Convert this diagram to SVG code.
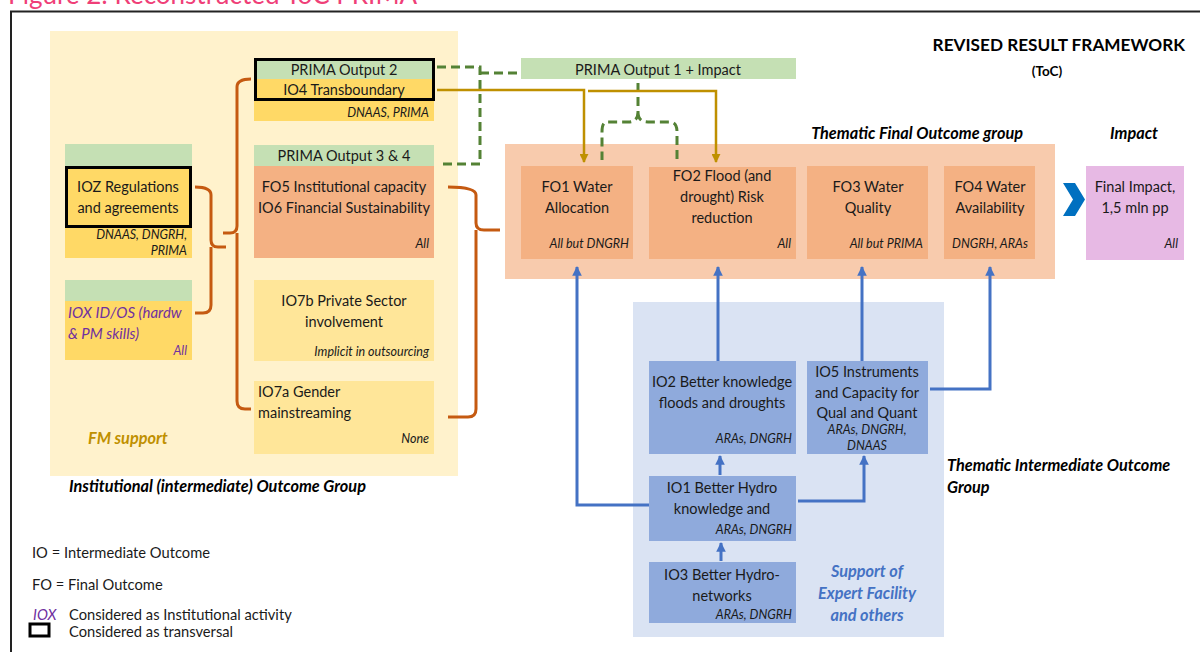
<svg xmlns="http://www.w3.org/2000/svg" width="1200" height="652" viewBox="0 0 1200 652">
<defs>
<style>
text{font-family:Lato,"Liberation Sans",sans-serif;font-size:14.5px;fill:#1a1a1a}
.c{text-anchor:middle}
.r{text-anchor:end}
.s{font-size:12.5px;font-style:italic}
.h{font-weight:bold;font-style:italic;font-size:16.3px;fill:#000}
.lg{font-size:14.7px}
.g{fill:#C5E0B4}
.y{fill:#FFD966}
.ly{fill:#FFE699}
.sa{fill:#F4B183}
.bl{fill:#8FAADC}
.br{fill:none;stroke:#C55A11;stroke-width:3;stroke-linejoin:round}
.dg{fill:none;stroke:#548235;stroke-width:3;stroke-dasharray:9 5}
.go{fill:none;stroke:#BF9000;stroke-width:2.5}
.bu{fill:none;stroke:#4472C4;stroke-width:3}
.tb{fill:none;stroke:#000;stroke-width:3}
</style>
<marker id="ag" viewBox="0 0 10 10" refX="9" refY="5" markerWidth="3.6" markerHeight="3.6" orient="auto" markerUnits="strokeWidth"><path d="M0,0 L10,5 L0,10 z" fill="#BF9000"/></marker>
<marker id="ab" viewBox="0 0 10 10" refX="9" refY="5" markerWidth="3.2" markerHeight="3.2" orient="auto" markerUnits="strokeWidth"><path d="M0,0 L10,5 L0,10 z" fill="#4472C4"/></marker>
</defs>
<rect width="1200" height="652" fill="#fff"/>
<text x="8" y="4" style="font-size:26px;fill:#EF3F78">Figure 2: Reconstructed ToC PRIMA</text>
<path d="M11,652 V11.5 H1200" fill="none" stroke="#222" stroke-width="2"/>

<g id="institutional-group">
<rect x="50" y="31" width="408" height="445" fill="#FFF2CC"/>
<text x="88" y="444" class="h" style="fill:#BF9000">FM support</text>
<text x="69" y="492" class="h">Institutional (intermediate) Outcome Group</text>
</g>

<g id="thematic-final-group">
<rect x="505" y="144" width="550" height="135" fill="#F8CBAD"/>
<text x="1023" y="139" class="h r">Thematic Final Outcome group</text>
</g>

<g id="impact-label"><text x="1134" y="139" class="h c">Impact</text></g>

<g id="thematic-intermediate-group">
<rect x="633" y="302" width="311" height="335" fill="#DAE3F3"/>
<text x="947" y="471" class="h">Thematic Intermediate Outcome</text>
<text x="947" y="493" class="h">Group</text>
<text x="867" y="577" class="h c" style="fill:#4472C4">Support of</text>
<text x="867" y="599" class="h c" style="fill:#4472C4">Expert Facility</text>
<text x="867" y="621" class="h c" style="fill:#4472C4">and others</text>
</g>

<g id="title">
<text x="1185" y="51" class="r" style="font-weight:bold;font-size:17.2px;fill:#000">REVISED RESULT FRAMEWORK</text>
<text x="1047" y="76" class="c" style="font-weight:bold;font-size:13.5px;fill:#000">(ToC)</text>
</g>

<g id="connectors">
<path class="br" d="M195,187 Q211,187 211,195 V240 Q211,247 218,247 H226 M211,247 V305 Q211,313 203,313 H195"/>
<path class="br" d="M251,79 Q237,79 237,87 V226 Q237,233 230,233 H223 M237,233 V401 Q237,409 245,409 H251"/>
<path class="br" d="M448,187 Q476,187 476,195 V223 Q476,230 484,230 H500 M476,230 V409 Q476,417 468,417 H448"/>
<path class="dg" d="M437,67 H480 V164 H440"/>
<path class="dg" d="M480,73 H521"/>
<path class="dg" d="M638,83 V112 Q638,122 628,122 H607 Q602,122 602,132 V160 M638,112 Q638,122 648,122 H670 Q677,122 677,132 V160"/>
<path class="go" d="M437,90 H584 V162" marker-end="url(#ag)"/>
<path class="go" d="M588,91 H716 V162" marker-end="url(#ag)"/>
<path class="bu" d="M649,505 H577 V267" marker-end="url(#ab)"/>
<path class="bu" d="M718,361 V267" marker-end="url(#ab)"/>
<path class="bu" d="M862,361 V267" marker-end="url(#ab)"/>
<path class="bu" d="M930,389 H990 V267" marker-end="url(#ab)"/>
<path class="bu" d="M720,475 V456" marker-end="url(#ab)"/>
<path class="bu" d="M721,561 V543" marker-end="url(#ab)"/>
<path class="bu" d="M798,501 H864 V456" marker-end="url(#ab)"/>
<polygon points="1063,183 1075,183 1085,199.5 1075,216 1063,216 1073,199.5" fill="#0070C0"/>
</g>

<g id="ioz">
<rect x="65" y="144" width="127" height="22" class="g"/>
<rect x="65" y="166" width="127" height="92" class="y"/>
<rect x="66.5" y="167.5" width="124" height="59" class="tb"/>
<text x="128" y="192" class="c">IOZ Regulations</text>
<text x="128" y="213" class="c">and agreements</text>
<text x="187" y="239" class="s r">DNAAS, DNGRH,</text>
<text x="187" y="255" class="s r">PRIMA</text>
</g>

<g id="iox">
<rect x="65" y="280" width="127" height="21" class="g"/>
<rect x="65" y="301" width="127" height="59" class="y"/>
<text x="68" y="318" style="font-style:italic;font-size:15px;fill:#7030A0">IOX ID/OS (hardw</text>
<text x="68" y="339" style="font-style:italic;font-size:15px;fill:#7030A0">&amp; PM skills)</text>
<text x="187" y="355" class="s r" style="fill:#7030A0">All</text>
</g>

<g id="io4">
<rect x="254" y="58" width="180" height="21" class="g"/>
<rect x="254" y="79" width="180" height="42" class="y"/>
<rect x="255.5" y="59.5" width="178" height="40" class="tb"/>
<text x="344" y="75" class="c">PRIMA Output 2</text>
<text x="344" y="95" class="c">IO4 Transboundary</text>
<text x="429" y="117" class="s r">DNAAS, PRIMA</text>
</g>

<g id="fo5">
<rect x="254" y="145" width="180" height="21" class="g"/>
<rect x="254" y="166" width="180" height="92" class="sa"/>
<text x="344" y="161" class="c">PRIMA Output 3 &amp; 4</text>
<text x="344" y="192" class="c">FO5 Institutional capacity</text>
<text x="344" y="213" class="c">IO6 Financial Sustainability</text>
<text x="429" y="248" class="s r">All</text>
</g>

<g id="io7b">
<rect x="254" y="280" width="180" height="81" class="ly"/>
<text x="344" y="306" class="c">IO7b Private Sector</text>
<text x="344" y="327" class="c">involvement</text>
<text x="429" y="356" class="s r">Implicit in outsourcing</text>
</g>

<g id="io7a">
<rect x="254" y="381" width="180" height="73" class="ly"/>
<text x="258" y="397">IO7a Gender</text>
<text x="258" y="418">mainstreaming</text>
<text x="429" y="443" class="s r">None</text>
</g>

<g id="prima-output-1">
<rect x="521" y="58" width="275" height="21" class="g"/>
<text x="658" y="75" class="c">PRIMA Output 1 + Impact</text>
</g>

<g id="fo1">
<rect x="521" y="166" width="112" height="93" class="sa"/>
<text x="577" y="192" class="c">FO1 Water</text>
<text x="577" y="213" class="c">Allocation</text>
<text x="629" y="248" class="s r">All but DNGRH</text>
</g>

<g id="fo2">
<rect x="649" y="167" width="147" height="92" class="sa"/>
<text x="722" y="181" class="c">FO2 Flood (and</text>
<text x="722" y="202" class="c">drought) Risk</text>
<text x="722" y="223" class="c">reduction</text>
<text x="791" y="248" class="s r">All</text>
</g>

<g id="fo3">
<rect x="807" y="166" width="121" height="93" class="sa"/>
<text x="868" y="192" class="c">FO3 Water</text>
<text x="868" y="213" class="c">Quality</text>
<text x="923" y="248" class="s r">All but PRIMA</text>
</g>

<g id="fo4">
<rect x="944" y="166" width="91" height="93" class="sa"/>
<text x="990" y="192" class="c">FO4 Water</text>
<text x="990" y="213" class="c">Availability</text>
<text x="990" y="248" class="s c">DNGRH, ARAs</text>
</g>

<g id="final-impact">
<rect x="1086" y="166" width="98" height="94" fill="#E7B9E4"/>
<text x="1135" y="192" class="c">Final Impact,</text>
<text x="1135" y="213" class="c">1,5 mln pp</text>
<text x="1178" y="248" class="s r">All</text>
</g>

<g id="io2">
<rect x="649" y="361" width="147" height="93" class="bl"/>
<text x="722" y="387" class="c">IO2 Better knowledge</text>
<text x="722" y="408" class="c">floods and droughts</text>
<text x="792" y="443" class="s r">ARAs, DNGRH</text>
</g>

<g id="io5">
<rect x="807" y="361" width="121" height="93" class="bl"/>
<text x="867" y="377" class="c">IO5 Instruments</text>
<text x="867" y="398" class="c">and Capacity for</text>
<text x="867" y="418" class="c">Qual and Quant</text>
<text x="867" y="434" class="s c">ARAs, DNGRH,</text>
<text x="867" y="450" class="s c">DNAAS</text>
</g>

<g id="io1">
<rect x="649" y="476" width="147" height="65" class="bl"/>
<text x="722" y="493" class="c">IO1 Better Hydro</text>
<text x="722" y="514" class="c">knowledge and</text>
<text x="792" y="534" class="s r">ARAs, DNGRH</text>
</g>

<g id="io3">
<rect x="649" y="562" width="147" height="61" class="bl"/>
<text x="722" y="580" class="c">IO3 Better Hydro-</text>
<text x="722" y="601" class="c">networks</text>
<text x="792" y="619" class="s r">ARAs, DNGRH</text>
</g>

<g id="legend">
<text x="32" y="558" class="lg">IO = Intermediate Outcome</text>
<text x="32" y="590" class="lg">FO = Final Outcome</text>
<text x="33" y="620" class="lg" style="font-style:italic;fill:#7030A0">IOX</text>
<text x="69" y="620" class="lg">Considered as Institutional activity</text>
<rect x="30" y="624" width="19" height="12" class="tb"/>
<text x="69" y="637" class="lg">Considered as transversal</text>
</g>
</svg>
